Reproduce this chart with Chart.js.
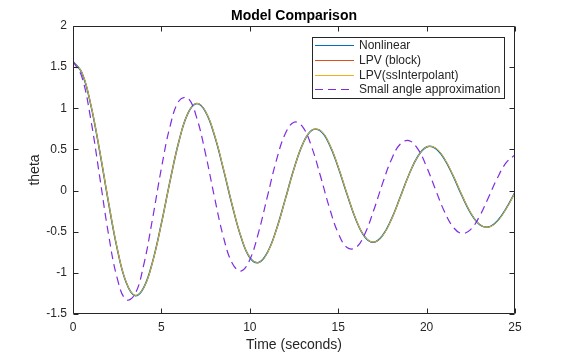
<!DOCTYPE html>
<html><head><meta charset="utf-8">
<script src="https://cdn.jsdelivr.net/npm/chart.js@4.4.0/dist/chart.umd.min.js"></script>
<style>html,body{margin:0;padding:0;background:#fff;}#wrap{width:567px;height:352px;}</style>
</head><body><div id="wrap"><canvas id="c" width="567" height="352"></canvas></div>
<script>
const timeS = [0,0.5,1,1.5,2,2.5,3,3.5,4,4.5,5,5.5,6,6.5,7,7.5,8,8.5,9,9.5,10,10.5,11,11.5,12,12.5,13,13.5,14,14.5,15,15.5,16,16.5,17,17.5,18,18.5,19,19.5,20,20.5,21,21.5,22,22.5,23,23.5,24,24.5,25];
const nonlinear = [1.570,1.433,1.048,0.490,-0.134,-0.705,-1.111,-1.275,-1.179,-0.866,-0.399,0.128,0.606,0.938,1.057,0.956,0.672,0.267,-0.175,-0.562,-0.813,-0.874,-0.750,-0.476,-0.110,0.265,0.568,0.732,0.725,0.562,0.284,-0.045,-0.351,-0.561,-0.628,-0.549,-0.353,-0.085,0.193,0.414,0.529,0.514,0.386,0.178,-0.062,-0.276,-0.413,-0.443,-0.370,-0.217,-0.022];
const lpvBlock = [1.570,1.433,1.049,0.491,-0.133,-0.704,-1.110,-1.275,-1.179,-0.867,-0.400,0.127,0.606,0.938,1.057,0.957,0.673,0.268,-0.174,-0.561,-0.813,-0.874,-0.751,-0.477,-0.111,0.264,0.568,0.732,0.726,0.563,0.285,-0.044,-0.350,-0.561,-0.628,-0.550,-0.354,-0.086,0.192,0.414,0.529,0.515,0.387,0.179,-0.061,-0.275,-0.413,-0.443,-0.371,-0.218,-0.023];
const lpvSsInterp = [1.570,1.436,1.054,0.498,-0.126,-0.698,-1.106,-1.272,-1.180,-0.870,-0.403,0.124,0.604,0.939,1.059,0.960,0.679,0.275,-0.168,-0.557,-0.810,-0.875,-0.754,-0.480,-0.114,0.262,0.567,0.733,0.729,0.568,0.291,-0.038,-0.346,-0.558,-0.627,-0.552,-0.357,-0.089,0.190,0.413,0.530,0.518,0.391,0.185,-0.055,-0.271,-0.411,-0.445,-0.374,-0.222,-0.027];
const smallAngle = [1.570,1.381,0.873,0.182,-0.520,-1.065,-1.326,-1.262,-0.902,-0.341,0.272,0.790,1.092,1.123,0.883,0.444,-0.078,-0.557,-0.880,-0.978,-0.840,-0.505,-0.068,0.364,0.688,0.831,0.771,0.530,0.174,-0.206,-0.518,-0.692,-0.694,-0.530,-0.246,0.081,0.372,0.563,0.607,0.506,0.289,0.014,-0.251,-0.443,-0.521,-0.471,-0.310,-0.084,0.151,0.339,0.436];
const xTicks = [0,5,10,15,20,25];
const yTicks = [-1.5,-1,-0.5,0,0.5,1,1.5,2];
const seriesNames = ['Nonlinear','LPV (block)','LPV(ssInterpolant)','Small angle approximation'];
const seriesColors = ['#0072BD','#D95319','#EDB120','#7F2BE0'];

const FONT = '"Liberation Sans", Arial, Helvetica, sans-serif';
const AX = '#262626';
function pts(arr){ return timeS.map((t,i)=>({x:t,y:arr[i]})); }
const allSeries = [nonlinear, lpvBlock, lpvSsInterp, smallAngle];
const widths = [1.5, 1.0, 1.0, 1.2];
const drawOrder = [2, 3, 1, 0];
const datasets = allSeries.map((arr,i)=>({
  label: seriesNames[i],
  data: pts(arr),
  borderColor: seriesColors[i],
  borderWidth: widths[i],
  borderDash: i===3 ? [8,5] : [],
  pointRadius: 0,
  tension: 0.4,
  fill: false,
  order: drawOrder[i]
}));

const decor = {
  id: 'decor',
  afterDraw(chart){
    const ctx = chart.ctx, a = chart.chartArea;
    const xs = chart.scales.x, ys = chart.scales.y;
    ctx.save();
    ctx.strokeStyle = AX; ctx.lineWidth = 1;
    const L = Math.round(a.left)+0.5, R = Math.round(a.right)-0.5, T = Math.round(a.top)+0.5, B = Math.round(a.bottom)-0.5;
    ctx.beginPath();
    ctx.rect(L, T, R-L, B-T);
    xTicks.forEach(v=>{ const x = Math.round(xs.getPixelForValue(v))+0.5;
      ctx.moveTo(x,B); ctx.lineTo(x,B-5); ctx.moveTo(x,T); ctx.lineTo(x,T+5); });
    yTicks.forEach(v=>{ const y = Math.round(ys.getPixelForValue(v))+0.5;
      ctx.moveTo(L,y); ctx.lineTo(L+5,y); ctx.moveTo(R,y); ctx.lineTo(R-5,y); });
    ctx.stroke();
    ctx.fillStyle = '#000';
    ctx.font = 'bold 14px ' + FONT;
    ctx.textAlign = 'center'; ctx.textBaseline = 'alphabetic';
    ctx.fillText('Model Comparison', (a.left+a.right)/2, 20);
    ctx.fillStyle = AX;
    ctx.font = '14px ' + FONT;
    ctx.fillText('Time (seconds)', (a.left+a.right)/2, 349);
    ctx.save();
    ctx.translate(39, (a.top+a.bottom)/2);
    ctx.rotate(-Math.PI/2);
    ctx.fillText('theta', 0, 0);
    ctx.restore();
    const bx = 312.5, by = 37.5, bw = 192, bh = 61;
    ctx.fillStyle = '#fff';
    ctx.fillRect(bx, by, bw, bh);
    ctx.strokeStyle = AX; ctx.lineWidth = 1;
    ctx.strokeRect(bx, by, bw, bh);
    const rows = [45.5, 60.5, 75.5, 89.5];
    ctx.font = '12px ' + FONT;
    ctx.textAlign = 'left'; ctx.textBaseline = 'middle';
    seriesNames.forEach((n,i)=>{
      ctx.strokeStyle = seriesColors[i];
      ctx.lineWidth = 1;
      ctx.setLineDash(i===3 ? [8,5] : []);
      ctx.beginPath(); ctx.moveTo(315, rows[i]); ctx.lineTo(354, rows[i]); ctx.stroke();
      ctx.setLineDash([]);
      ctx.fillStyle = '#262626';
      ctx.fillText(n, 359, rows[i]);
    });
    ctx.restore();
  }
};

new Chart(document.getElementById('c'), {
  type: 'line',
  data: { datasets },
  options: {
    responsive: false, animation: false,
    layout: { padding: { top: 26, right: 52, left: 0, bottom: 0 } },
    plugins: { legend: { display: false }, title: { display: false }, tooltip: { enabled: false } },
    scales: {
      x: { type: 'linear', min: 0, max: 25,
        afterBuildTicks(s){ s.ticks = xTicks.map(v=>({value:v})); },
        afterFit(s){ s.height = 38; },
        grid: { display: false, drawTicks: false }, border: { display: false },
        ticks: { color: AX, font: { family: FONT, size: 12 }, padding: 6, maxRotation: 0, autoSkip: false, callback: v => String(v) } },
      y: { type: 'linear', min: -1.5, max: 2,
        afterBuildTicks(s){ s.ticks = yTicks.map(v=>({value:v})); },
        afterFit(s){ s.width = 73; },
        grid: { display: false, drawTicks: false }, border: { display: false },
        ticks: { color: AX, font: { family: FONT, size: 12 }, padding: 6, autoSkip: false, callback: v => String(v) } }
    }
  },
  plugins: [decor]
});
</script></body></html>
